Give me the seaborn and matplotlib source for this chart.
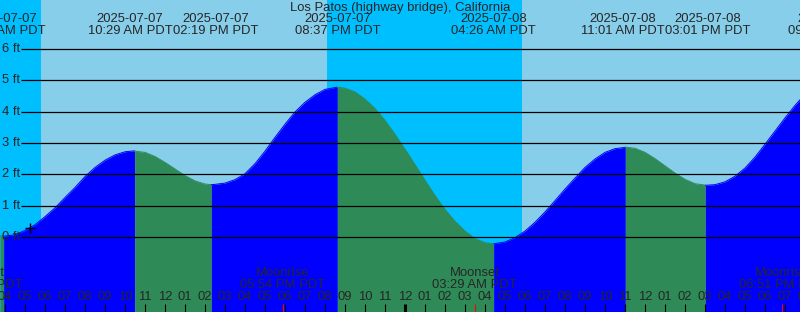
import numpy as np
import pandas as pd
import matplotlib
matplotlib.use("Agg")
import matplotlib.pyplot as plt
import seaborn as sns

# ---------------- data ----------------
title = "Los Patos (highway bridge), California"
base = pd.Timestamp("2025-07-07 00:00")

# tide extremes (high / low)
extreme_times = ["2025-07-07 03:56", "2025-07-07 10:29", "2025-07-07 14:19",
                 "2025-07-07 20:37", "2025-07-08 04:26", "2025-07-08 11:01",
                 "2025-07-08 15:01", "2025-07-08 21:17"]
extreme_heights = [0.02, 2.75, 1.67, 4.78, -0.22, 2.87, 1.65, 4.65]

# half-hourly readings of the predicted level (ft), 04:00 (7th) .. 19:30 (8th)
half_hour_heights = [
    0.03, 0.07, 0.21, 0.39, 0.65, 0.93, 1.26, 1.58, 1.93, 2.22,   # 04:00-08:30
    2.45, 2.62, 2.72, 2.74, 2.70, 2.57, 2.38, 2.17, 1.96, 1.79,   # 09:00-13:30
    1.69, 1.68, 1.72, 1.83, 2.02, 2.34, 2.74, 3.18, 3.60, 3.99,   # 14:00-18:30
    4.30, 4.54, 4.71, 4.77, 4.75, 4.63, 4.40, 4.10, 3.72, 3.28,   # 19:00-23:30
    2.80, 2.31, 1.81, 1.32, 0.88, 0.50, 0.19, -0.05, -0.18, -0.21,  # 00:00-04:30
    -0.16, -0.02, 0.19, 0.47, 0.80, 1.16, 1.53, 1.88, 2.22, 2.49,   # 05:00-09:30
    2.70, 2.82, 2.86, 2.83, 2.70, 2.50, 2.27, 2.04, 1.84, 1.70,   # 10:00-14:30
    1.66, 1.67, 1.76, 1.94, 2.20, 2.55, 2.96, 3.38, 3.80, 4.20,   # 15:00-19:30
]
edge_times = ["2025-07-07 03:45", "2025-07-08 19:45"]
edge_heights = [0.04, 4.38]

# sunrise / sunset
sun_times = ["2025-07-07 05:48", "2025-07-07 20:06", "2025-07-08 05:51"]

# moon events
moon_times = ["2025-07-07 02:45", "2025-07-07 17:54", "2025-07-08 03:29", "2025-07-08 18:51"]
moon_events = ["Moonset", "Moonrise", "Moonset", "Moonrise"]

# current-time mark
mark_time = "2025-07-07 05:15"
mark_height = 0.29

y_levels = [0, 1, 2, 3, 4, 5, 6]

# ---------------- helpers ----------------
def hours(s):
    return (pd.Timestamp(s) - base) / pd.Timedelta(hours=1)

W, H = 800, 312
x_start = hours(edge_times[0])
x_end = hours(edge_times[1])
px_per_ft = (237 - 49) / 6.0
y_top = 237 / px_per_ft
y_bot = (237 - H) / px_per_ft

def yfrac(py):
    return 1 - py / H

def xdata(px):
    return x_start + (x_end - x_start) * px / W

def xpix(xd):
    return (xd - x_start) / (x_end - x_start) * W

NIGHT = "#00BFFF"
DAY = "#87CEEB"
RISE = "#0000FF"
FALL = "#2E8B57"

sns.set_style("white")
plt.rcParams["font.family"] = ["Liberation Sans", "DejaVu Sans"]
FS = 9.4

fig = plt.figure(figsize=(W / 100, H / 100), dpi=100)
ax = fig.add_axes([0, 0, 1, 1])

# background day/night
ax.axvspan(x_start, x_end, color=DAY, lw=0, antialiased=False, zorder=0)
sun_h = [hours(t) for t in sun_times]
edges = [x_start] + sun_h + [x_end]
night = True  # chart starts before sunrise
for a, b in zip(edges[:-1], edges[1:]):
    if night:
        ax.axvspan(a, b, color=NIGHT, lw=0, antialiased=False, zorder=0)
    night = not night

# tide curve
hh_times = pd.date_range("2025-07-07 04:00", "2025-07-08 19:30", freq="30min")
assert len(hh_times) == len(half_hour_heights)
ext_t = [hours(t) for t in extreme_times]
df = pd.DataFrame({
    "t": [hours(t) for t in edge_times] + [hours(t) for t in hh_times] + ext_t,
    "h": edge_heights + half_hour_heights + extreme_heights,
})
df = df.sort_values("t").drop_duplicates("t").reset_index(drop=True)

def is_high(i):
    if i + 1 < len(extreme_heights):
        return extreme_heights[i] > extreme_heights[i + 1]
    return extreme_heights[i] > extreme_heights[i - 1]

bounds = [df["t"].min()] + ext_t + [df["t"].max()]
for k in range(len(bounds) - 1):
    a, b = bounds[k], bounds[k + 1]
    if b <= a:
        continue
    seg = df[(df["t"] >= a) & (df["t"] <= b)]
    if len(seg) < 2:
        continue
    if k < len(ext_t):
        rising = is_high(k)
    else:
        rising = not is_high(len(ext_t) - 1)
    col = RISE if rising else FALL
    ax.fill_between(seg["t"], seg["h"], y_bot, color=col, lw=0,
                    antialiased=False, zorder=1)
    sns.lineplot(data=seg, x="t", y="h", color=col, lw=0.7, ax=ax,
                 sort=False, estimator=None, zorder=1.5)

ax.set_xlim(x_start, x_end)
ax.set_ylim(y_bot, y_top)
ax.axis("off")

# grid lines and level labels
ax.hlines(y_levels, xdata(21), x_end, color="black", lw=0.9, zorder=2)
for lv in y_levels:
    ax.text(xdata(1.5), lv, f"{lv} ft", ha="left", va="center", fontsize=FS, zorder=3)

# title
ax.text(0.5, yfrac(7.5), title, transform=ax.transAxes, ha="center", va="center",
        fontsize=FS, zorder=3)

# extreme labels (pushed apart when they would overlap)
xt = ax.get_xaxis_transform()
fig.canvas.draw()
renderer = fig.canvas.get_renderer()
probe = ax.text(0, 0, "10:29 AM PDT", fontsize=FS)
label_w = probe.get_window_extent(renderer).width + 1
probe.remove()
centers = [xpix(x) for x in ext_t]
for i in range(len(centers) - 1):
    gap = centers[i + 1] - centers[i]
    if gap < label_w:
        mid = (centers[i] + centers[i + 1]) / 2
        centers[i] = mid - label_w / 2
        centers[i + 1] = mid + label_w / 2
for t, cx in zip(extreme_times, centers):
    ts = pd.Timestamp(t)
    x = xdata(cx)
    ax.text(x, yfrac(19.5), ts.strftime("%Y-%m-%d"), transform=xt,
            ha="center", va="center", fontsize=FS, zorder=3, clip_on=False)
    ax.text(x, yfrac(31.5), ts.strftime("%I:%M %p PDT"), transform=xt,
            ha="center", va="center", fontsize=FS, zorder=3, clip_on=False)

# current-time mark
ax.plot([hours(mark_time)], [mark_height], marker="+", ms=7, mew=1.0,
        color="black", zorder=3)

# hour labels and ticks
hour_ticks = list(range(int(np.floor(x_start)), int(np.ceil(x_end)) + 1))
for hr in hour_ticks:
    lab = f"{(hr - 1) % 12 + 1:02d}"
    ax.text(hr, yfrac(297.5), lab, transform=xt, ha="center", va="center",
            fontsize=FS, zorder=3)
    lw = 2.2 if hr % 24 == 0 else 0.8
    ax.vlines(hr, yfrac(H), yfrac(304), transform=xt, color="black", lw=lw, zorder=3)

# moon events
for t, ev in zip(moon_times, moon_events):
    x = hours(t)
    ts = pd.Timestamp(t)
    ax.text(x, yfrac(273.5), ev, transform=xt, ha="center", va="center",
            fontsize=FS, zorder=3)
    ax.text(x, yfrac(285.5), ts.strftime("%I:%M %p PDT"), transform=xt,
            ha="center", va="center", fontsize=FS, zorder=3)
    ax.vlines(x, yfrac(H), yfrac(304), transform=xt, color="red", lw=0.8, zorder=3)

fig.savefig("out.png", dpi=100)
